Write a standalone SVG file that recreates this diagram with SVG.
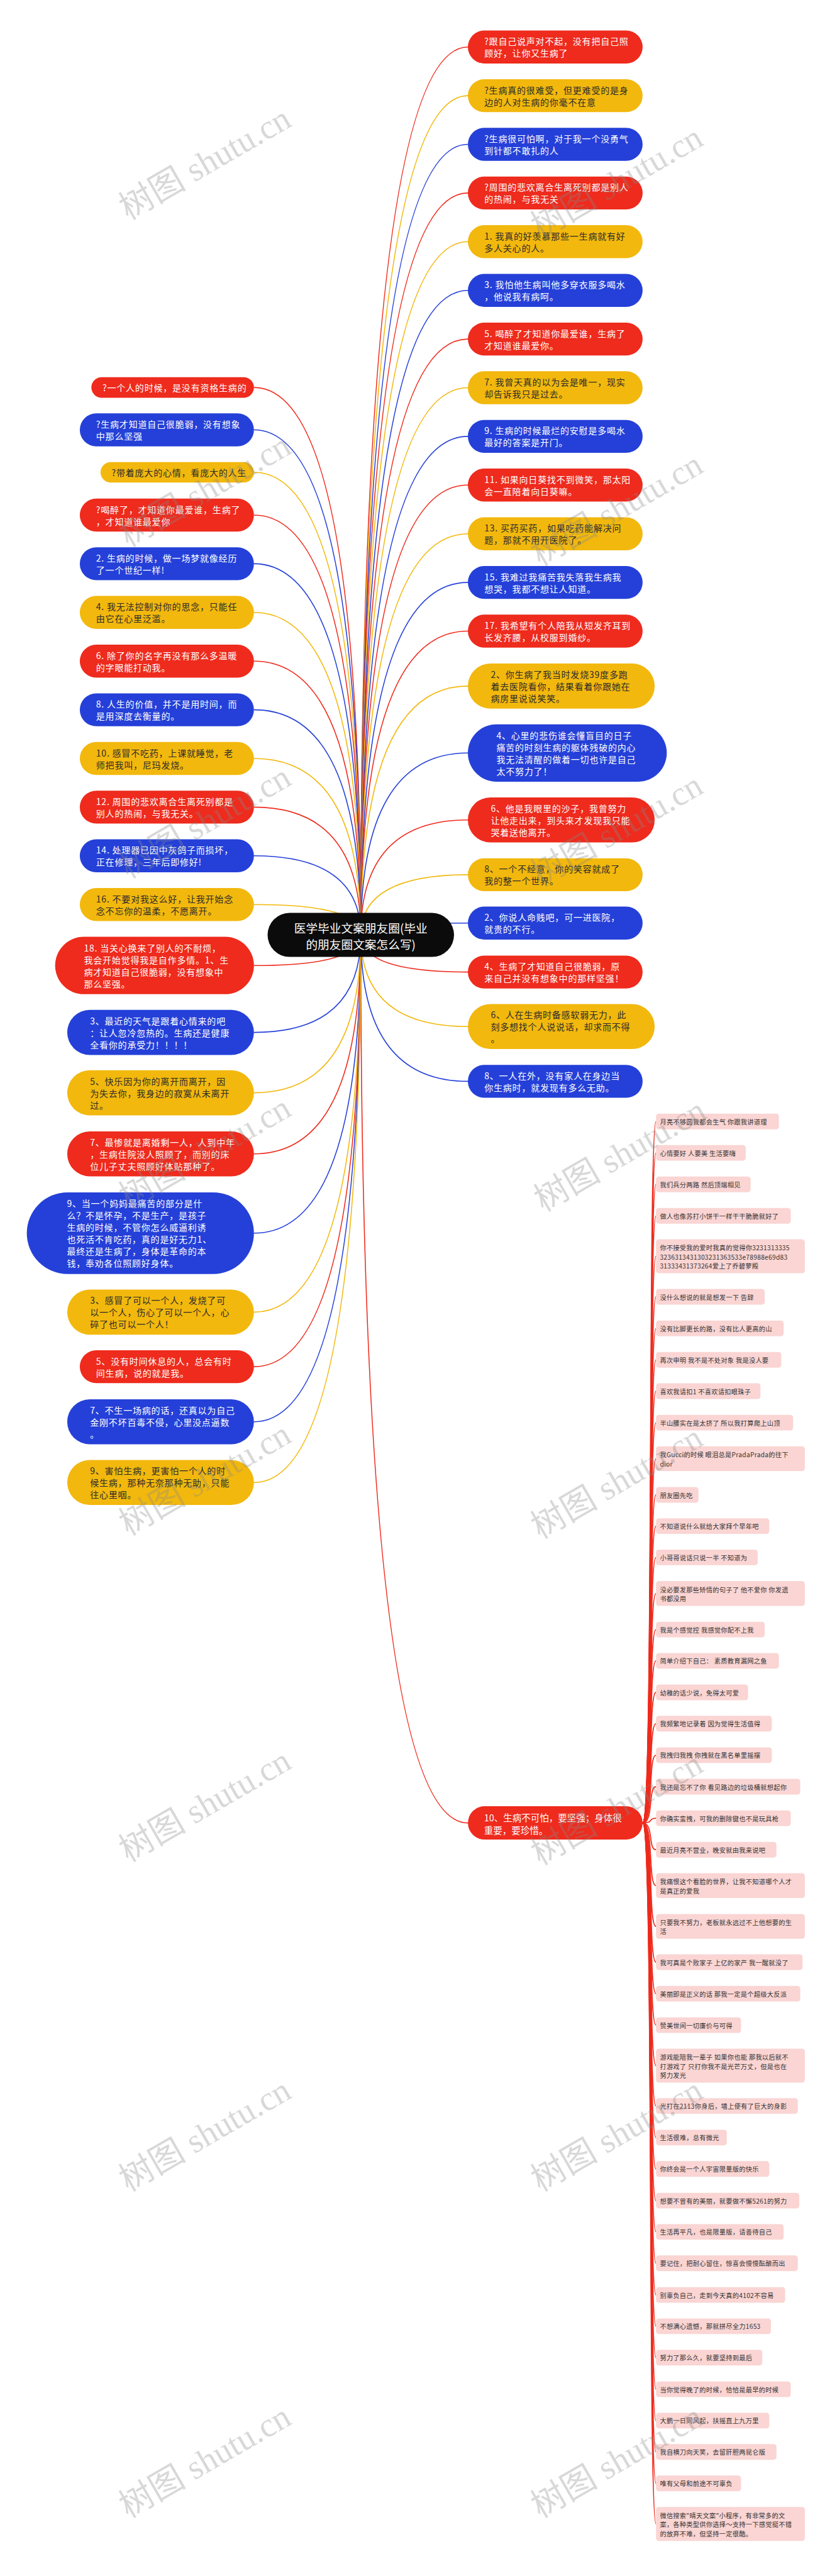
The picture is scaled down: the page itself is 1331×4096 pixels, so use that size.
<svg xmlns="http://www.w3.org/2000/svg" width="1331" height="4096" viewBox="0 0 1331 4096">
<style>
.r{fill:#EE2B1D}.y{fill:#F2B80D}.b{fill:#2540D8}
.cr{stroke:#EE2B1D}.cy{stroke:#F2B80D}.cb{stroke:#2540D8}
#connectors path{fill:none;stroke-width:1.6}
#pink-links path{fill:none;stroke:#EE2B1D;stroke-width:1.8}
text{font-family:"Noto Sans CJK SC","Noto Sans",sans-serif;dominant-baseline:central}
.t{font-size:14px;letter-spacing:0.8px}
.w{fill:#fff}.k{fill:#2b2b2b}
.pk{fill:#FAD5D3}
.p{font-size:10.2px;letter-spacing:0.3px;fill:#333}
.wm{font-family:"Liberation Serif","Noto Sans CJK SC",serif;font-size:54px;fill:#8a8a8a;fill-opacity:0.33;dominant-baseline:auto}
</style>
<rect width="1331" height="4096" fill="#fff"/>
<g id="connectors">
<path class="cr" d="M573.7 1486.6Q573.7 74.7 744 74.7"/>
<path class="cy" d="M573.7 1486.6Q573.7 152.1 744 152.1"/>
<path class="cb" d="M573.7 1486.6Q573.7 229.5 744 229.5"/>
<path class="cr" d="M573.7 1486.6Q573.7 306.9 744 306.9"/>
<path class="cy" d="M573.7 1486.6Q573.7 384.3 744 384.3"/>
<path class="cb" d="M573.7 1486.6Q573.7 461.7 744 461.7"/>
<path class="cr" d="M573.7 1486.6Q573.7 539.1 744 539.1"/>
<path class="cy" d="M573.7 1486.6Q573.7 616.5 744 616.5"/>
<path class="cb" d="M573.7 1486.6Q573.7 693.9 744 693.9"/>
<path class="cr" d="M573.7 1486.6Q573.7 771.3 744 771.3"/>
<path class="cy" d="M573.7 1486.6Q573.7 848.7 744 848.7"/>
<path class="cb" d="M573.7 1486.6Q573.7 926.1 744 926.1"/>
<path class="cr" d="M573.7 1486.6Q573.7 1003.5 744 1003.5"/>
<path class="cy" d="M573.7 1486.6Q573.7 1090.9 744 1090.9"/>
<path class="cb" d="M573.7 1486.6Q573.7 1197.3 744 1197.3"/>
<path class="cr" d="M573.7 1486.6Q573.7 1303.7 744 1303.7"/>
<path class="cy" d="M573.7 1486.6Q573.7 1390.9 744 1390.9"/>
<path class="cb" d="M573.7 1486.6Q573.7 1467.7 744 1467.7"/>
<path class="cr" d="M573.7 1486.6Q573.7 1545.6 744 1545.6"/>
<path class="cy" d="M573.7 1486.6Q573.7 1632.3 744 1632.3"/>
<path class="cb" d="M573.7 1486.6Q573.7 1719.4 744 1719.4"/>
<path class="cr" d="M573.7 1486.6Q573.7 2898.6 744 2898.6"/>
<path class="cr" d="M573.7 1486.6Q573.7 616.1 403.8 616.1"/>
<path class="cb" d="M573.7 1486.6Q573.7 683.5 403.8 683.5"/>
<path class="cy" d="M573.7 1486.6Q573.7 751 403.8 751"/>
<path class="cr" d="M573.7 1486.6Q573.7 819 403.8 819"/>
<path class="cb" d="M573.7 1486.6Q573.7 896.4 403.8 896.4"/>
<path class="cy" d="M573.7 1486.6Q573.7 973.8 403.8 973.8"/>
<path class="cr" d="M573.7 1486.6Q573.7 1051.2 403.8 1051.2"/>
<path class="cb" d="M573.7 1486.6Q573.7 1128.6 403.8 1128.6"/>
<path class="cy" d="M573.7 1486.6Q573.7 1206 403.8 1206"/>
<path class="cr" d="M573.7 1486.6Q573.7 1283.4 403.8 1283.4"/>
<path class="cb" d="M573.7 1486.6Q573.7 1360.8 403.8 1360.8"/>
<path class="cy" d="M573.7 1486.6Q573.7 1438.2 403.8 1438.2"/>
<path class="cr" d="M573.7 1486.6Q573.7 1535.2 403.8 1535.2"/>
<path class="cb" d="M573.7 1486.6Q573.7 1641.6 403.8 1641.6"/>
<path class="cy" d="M573.7 1486.6Q573.7 1737.6 403.8 1737.6"/>
<path class="cr" d="M573.7 1486.6Q573.7 1834.7 403.8 1834.7"/>
<path class="cb" d="M573.7 1486.6Q573.7 1960.8 403.8 1960.8"/>
<path class="cy" d="M573.7 1486.6Q573.7 2086.4 403.8 2086.4"/>
<path class="cr" d="M573.7 1486.6Q573.7 2173.1 403.8 2173.1"/>
<path class="cb" d="M573.7 1486.6Q573.7 2260.8 403.8 2260.8"/>
<path class="cy" d="M573.7 1486.6Q573.7 2357.3 403.8 2357.3"/>
</g>
<g id="pink-links">
<path d="M1021.9 2898.6C1040 2898.6 1030 1783.3 1043.2 1783.3"/>
<path d="M1021.9 2898.6C1040 2898.6 1030 1833.1 1043.2 1833.1"/>
<path d="M1021.9 2898.6C1040 2898.6 1030 1883.2 1043.2 1883.2"/>
<path d="M1021.9 2898.6C1040 2898.6 1030 1933.3 1043.2 1933.3"/>
<path d="M1021.9 2898.6C1040 2898.6 1030 1997.6 1043.2 1997.6"/>
<path d="M1021.9 2898.6C1040 2898.6 1030 2062 1043.2 2062"/>
<path d="M1021.9 2898.6C1040 2898.6 1030 2112.3 1043.2 2112.3"/>
<path d="M1021.9 2898.6C1040 2898.6 1030 2162.2 1043.2 2162.2"/>
<path d="M1021.9 2898.6C1040 2898.6 1030 2212 1043.2 2212"/>
<path d="M1021.9 2898.6C1040 2898.6 1030 2262.1 1043.2 2262.1"/>
<path d="M1021.9 2898.6C1040 2898.6 1030 2319.4 1043.2 2319.4"/>
<path d="M1021.9 2898.6C1040 2898.6 1030 2377 1043.2 2377"/>
<path d="M1021.9 2898.6C1040 2898.6 1030 2426.6 1043.2 2426.6"/>
<path d="M1021.9 2898.6C1040 2898.6 1030 2476.4 1043.2 2476.4"/>
<path d="M1021.9 2898.6C1040 2898.6 1030 2533.8 1043.2 2533.8"/>
<path d="M1021.9 2898.6C1040 2898.6 1030 2591.1 1043.2 2591.1"/>
<path d="M1021.9 2898.6C1040 2898.6 1030 2640.9 1043.2 2640.9"/>
<path d="M1021.9 2898.6C1040 2898.6 1030 2691 1043.2 2691"/>
<path d="M1021.9 2898.6C1040 2898.6 1030 2740.8 1043.2 2740.8"/>
<path d="M1021.9 2898.6C1040 2898.6 1030 2790.9 1043.2 2790.9"/>
<path d="M1021.9 2898.6C1040 2898.6 1030 2841 1043.2 2841"/>
<path d="M1021.9 2898.6C1040 2898.6 1030 2891.1 1043.2 2891.1"/>
<path d="M1021.9 2898.6C1040 2898.6 1030 2941.2 1043.2 2941.2"/>
<path d="M1021.9 2898.6C1040 2898.6 1030 2998.3 1043.2 2998.3"/>
<path d="M1021.9 2898.6C1040 2898.6 1030 3063.1 1043.2 3063.1"/>
<path d="M1021.9 2898.6C1040 2898.6 1030 3120 1043.2 3120"/>
<path d="M1021.9 2898.6C1040 2898.6 1030 3170.1 1043.2 3170.1"/>
<path d="M1021.9 2898.6C1040 2898.6 1030 3220.1 1043.2 3220.1"/>
<path d="M1021.9 2898.6C1040 2898.6 1030 3284.5 1043.2 3284.5"/>
<path d="M1021.9 2898.6C1040 2898.6 1030 3348.6 1043.2 3348.6"/>
<path d="M1021.9 2898.6C1040 2898.6 1030 3398.9 1043.2 3398.9"/>
<path d="M1021.9 2898.6C1040 2898.6 1030 3448.8 1043.2 3448.8"/>
<path d="M1021.9 2898.6C1040 2898.6 1030 3499.1 1043.2 3499.1"/>
<path d="M1021.9 2898.6C1040 2898.6 1030 3548.9 1043.2 3548.9"/>
<path d="M1021.9 2898.6C1040 2898.6 1030 3598.7 1043.2 3598.7"/>
<path d="M1021.9 2898.6C1040 2898.6 1030 3649.1 1043.2 3649.1"/>
<path d="M1021.9 2898.6C1040 2898.6 1030 3698.9 1043.2 3698.9"/>
<path d="M1021.9 2898.6C1040 2898.6 1030 3748.7 1043.2 3748.7"/>
<path d="M1021.9 2898.6C1040 2898.6 1030 3799.1 1043.2 3799.1"/>
<path d="M1021.9 2898.6C1040 2898.6 1030 3848.9 1043.2 3848.9"/>
<path d="M1021.9 2898.6C1040 2898.6 1030 3898.7 1043.2 3898.7"/>
<path d="M1021.9 2898.6C1040 2898.6 1030 3948.8 1043.2 3948.8"/>
<path d="M1021.9 2898.6C1040 2898.6 1030 4013.2 1043.2 4013.2"/>
</g>
<g id="center">
<rect x="425.5" y="1451.6" width="296.5" height="70" rx="35" fill="#0B0B0B"/>
<text x="573.7" y="1473.5" text-anchor="middle" class="w" style="font-size:18.7px"><tspan x="573.7" y="1473.5">医学毕业文案朋友圈(毕业</tspan><tspan x="573.7" y="1499.7">的朋友圈文案怎么写)</tspan></text>
</g>
<g id="r1"><rect class="r" x="744" y="48.5" width="277.9" height="52.4" rx="26.2"/><text class="t w"><tspan x="770.2" y="65.2">?跟自己说声对不起，没有把自己照</tspan><tspan x="770.2" y="84.2">顾好，让你又生病了</tspan></text></g>
<g id="r2"><rect class="y" x="744" y="125.9" width="277.9" height="52.4" rx="26.2"/><text class="t k"><tspan x="770.2" y="142.6">?生病真的很难受，但更难受的是身</tspan><tspan x="770.2" y="161.6">边的人对生病的你毫不在意</tspan></text></g>
<g id="r3"><rect class="b" x="744" y="203.3" width="277.9" height="52.4" rx="26.2"/><text class="t w"><tspan x="770.2" y="220">?生病很可怕啊，对于我一个没勇气</tspan><tspan x="770.2" y="239">到针都不敢扎的人</tspan></text></g>
<g id="r4"><rect class="r" x="744" y="280.7" width="277.9" height="52.4" rx="26.2"/><text class="t w"><tspan x="770.2" y="297.4">?周围的悲欢离合生离死别都是别人</tspan><tspan x="770.2" y="316.4">的热闹，与我无关</tspan></text></g>
<g id="r5"><rect class="y" x="744" y="358.1" width="277.9" height="52.4" rx="26.2"/><text class="t k"><tspan x="770.2" y="374.8">1. 我真的好羡慕那些一生病就有好</tspan><tspan x="770.2" y="393.8">多人关心的人。</tspan></text></g>
<g id="r6"><rect class="b" x="744" y="435.5" width="277.9" height="52.4" rx="26.2"/><text class="t w"><tspan x="770.2" y="452.2">3. 我怕他生病叫他多穿衣服多喝水</tspan><tspan x="770.2" y="471.2">，他说我有病呵。</tspan></text></g>
<g id="r7"><rect class="r" x="744" y="512.9" width="277.9" height="52.4" rx="26.2"/><text class="t w"><tspan x="770.2" y="529.6">5. 喝醉了才知道你最爱谁，生病了</tspan><tspan x="770.2" y="548.6">才知道谁最爱你。</tspan></text></g>
<g id="r8"><rect class="y" x="744" y="590.3" width="277.9" height="52.4" rx="26.2"/><text class="t k"><tspan x="770.2" y="607">7. 我曾天真的以为会是唯一，现实</tspan><tspan x="770.2" y="626">却告诉我只是过去。</tspan></text></g>
<g id="r9"><rect class="b" x="744" y="667.7" width="277.9" height="52.4" rx="26.2"/><text class="t w"><tspan x="770.2" y="684.4">9. 生病的时候最烂的安慰是多喝水</tspan><tspan x="770.2" y="703.4">最好的答案是开门。</tspan></text></g>
<g id="r10"><rect class="r" x="744" y="745.1" width="277.9" height="52.4" rx="26.2"/><text class="t w"><tspan x="770.2" y="761.8">11. 如果向日葵找不到微笑，那太阳</tspan><tspan x="770.2" y="780.8">会一直陪着向日葵嘛。</tspan></text></g>
<g id="r11"><rect class="y" x="744" y="822.5" width="277.9" height="52.4" rx="26.2"/><text class="t k"><tspan x="770.2" y="839.2">13. 买药买药，如果吃药能解决问</tspan><tspan x="770.2" y="858.2">题，那就不用开医院了。</tspan></text></g>
<g id="r12"><rect class="b" x="744" y="899.9" width="277.9" height="52.4" rx="26.2"/><text class="t w"><tspan x="770.2" y="916.6">15. 我难过我痛苦我失落我生病我</tspan><tspan x="770.2" y="935.6">想哭，我都不想让人知道。</tspan></text></g>
<g id="r13"><rect class="r" x="744" y="977.3" width="277.9" height="52.4" rx="26.2"/><text class="t w"><tspan x="770.2" y="994">17. 我希望有个人陪我从短发齐耳到</tspan><tspan x="770.2" y="1013">长发齐腰，从校服到婚纱。</tspan></text></g>
<g id="r14"><rect class="y" x="744" y="1055.1" width="297.1" height="71.6" rx="35.8"/><text class="t k"><tspan x="780.4" y="1071.9">2、你生病了我当时发烧39度多跑</tspan><tspan x="780.4" y="1090.9">着去医院看你，结果看着你跟她在</tspan><tspan x="780.4" y="1109.9">病房里说说笑笑。</tspan></text></g>
<g id="r15"><rect class="b" x="744" y="1151.65" width="316.3" height="91.3" rx="45.65"/><text class="t w"><tspan x="789.4" y="1168.8">4、心里的悲伤谁会懂盲目的日子</tspan><tspan x="789.4" y="1187.8">痛苦的时刻生病的躯体残破的内心</tspan><tspan x="789.4" y="1206.8">我无法清醒的做着一切也许是自己</tspan><tspan x="789.4" y="1225.8">太不努力了！</tspan></text></g>
<g id="r16"><rect class="r" x="744" y="1267.9" width="297.1" height="71.6" rx="35.8"/><text class="t w"><tspan x="780.4" y="1284.7">6、他是我眼里的沙子，我曾努力</tspan><tspan x="780.4" y="1303.7">让他走出来，到头来才发现我只能</tspan><tspan x="780.4" y="1322.7">哭着送他离开。</tspan></text></g>
<g id="r17"><rect class="y" x="744" y="1364.7" width="277.9" height="52.4" rx="26.2"/><text class="t k"><tspan x="770.2" y="1381.4">8、一个不经意，你的笑容就成了</tspan><tspan x="770.2" y="1400.4">我的整一个世界。</tspan></text></g>
<g id="r18"><rect class="b" x="744" y="1441.5" width="277.9" height="52.4" rx="26.2"/><text class="t w"><tspan x="770.2" y="1458.2">2、你说人命贱吧，可一进医院，</tspan><tspan x="770.2" y="1477.2">就贵的不行。</tspan></text></g>
<g id="r19"><rect class="r" x="744" y="1519.4" width="277.9" height="52.4" rx="26.2"/><text class="t w"><tspan x="770.2" y="1536.1">4、生病了才知道自己很脆弱，原</tspan><tspan x="770.2" y="1555.1">来自己并没有想象中的那样坚强！</tspan></text></g>
<g id="r20"><rect class="y" x="744" y="1596.5" width="297.1" height="71.6" rx="35.8"/><text class="t k"><tspan x="780.4" y="1613.3">6、人在生病时备感软弱无力，此</tspan><tspan x="780.4" y="1632.3">刻多想找个人说说话，却求而不得</tspan><tspan x="780.4" y="1651.3">。</tspan></text></g>
<g id="r21"><rect class="b" x="744" y="1693.2" width="277.9" height="52.4" rx="26.2"/><text class="t w"><tspan x="770.2" y="1709.9">8、一人在外，没有家人在身边当</tspan><tspan x="770.2" y="1728.9">你生病时，就发现有多么无助。</tspan></text></g>
<g id="r22"><rect class="r" x="744.1" y="2872.1" width="277.8" height="53" rx="26.5"/><text class="w" style="font-size:14.5px"><tspan x="769.7" y="2889.3">10、生病不可怕，要坚强；身体很</tspan><tspan x="769.7" y="2909">重要，要珍惜。</tspan></text></g>
<g id="l1"><rect class="r" x="145.3" y="599.75" width="258.5" height="32.7" rx="16.35"/><text class="t w" x="163" y="616.1">?一个人的时候，是没有资格生病的</text></g>
<g id="l2"><rect class="b" x="126.9" y="657.3" width="276.9" height="52.4" rx="26.2"/><text class="t w"><tspan x="152.8" y="674">?生病才知道自己很脆弱，没有想象</tspan><tspan x="152.8" y="693">中那么坚强</tspan></text></g>
<g id="l3"><rect class="y" x="159.9" y="734.65" width="243.9" height="32.7" rx="16.35"/><text class="t k" x="177.5" y="751">?带着庞大的心情，看庞大的人生</text></g>
<g id="l4"><rect class="r" x="126.9" y="792.8" width="276.9" height="52.4" rx="26.2"/><text class="t w"><tspan x="152.8" y="809.5">?喝醉了，才知道你最爱谁，生病了</tspan><tspan x="152.8" y="828.5">，才知道谁最爱你</tspan></text></g>
<g id="l5"><rect class="b" x="126.9" y="870.2" width="276.9" height="52.4" rx="26.2"/><text class="t w"><tspan x="152.8" y="886.9">2. 生病的时候，做一场梦就像经历</tspan><tspan x="152.8" y="905.9">了一个世纪一样!</tspan></text></g>
<g id="l6"><rect class="y" x="126.9" y="947.6" width="276.9" height="52.4" rx="26.2"/><text class="t k"><tspan x="152.8" y="964.3">4. 我无法控制对你的思念，只能任</tspan><tspan x="152.8" y="983.3">由它在心里泛滥。</tspan></text></g>
<g id="l7"><rect class="r" x="126.9" y="1025" width="276.9" height="52.4" rx="26.2"/><text class="t w"><tspan x="152.8" y="1041.7">6. 除了你的名字再没有那么多温暖</tspan><tspan x="152.8" y="1060.7">的字眼能打动我。</tspan></text></g>
<g id="l8"><rect class="b" x="126.9" y="1102.4" width="276.9" height="52.4" rx="26.2"/><text class="t w"><tspan x="152.8" y="1119.1">8. 人生的价值，并不是用时间，而</tspan><tspan x="152.8" y="1138.1">是用深度去衡量的。</tspan></text></g>
<g id="l9"><rect class="y" x="126.9" y="1179.8" width="276.9" height="52.4" rx="26.2"/><text class="t k"><tspan x="152.8" y="1196.5">10. 感冒不吃药，上课就睡觉，老</tspan><tspan x="152.8" y="1215.5">师把我叫，尼玛发烧。</tspan></text></g>
<g id="l10"><rect class="r" x="126.9" y="1257.2" width="276.9" height="52.4" rx="26.2"/><text class="t w"><tspan x="152.8" y="1273.9">12. 周围的悲欢离合生离死别都是</tspan><tspan x="152.8" y="1292.9">别人的热闹，与我无关。</tspan></text></g>
<g id="l11"><rect class="b" x="126.9" y="1334.6" width="276.9" height="52.4" rx="26.2"/><text class="t w"><tspan x="152.8" y="1351.3">14. 处理器已因中灰鸽子而损坏，</tspan><tspan x="152.8" y="1370.3">正在修理，三年后即修好!</tspan></text></g>
<g id="l12"><rect class="y" x="126.9" y="1412" width="276.9" height="52.4" rx="26.2"/><text class="t k"><tspan x="152.8" y="1428.7">16. 不要对我这么好，让我开始念</tspan><tspan x="152.8" y="1447.7">念不忘你的温柔，不愿离开。</tspan></text></g>
<g id="l13"><rect class="r" x="87.7" y="1489.55" width="316.1" height="91.3" rx="45.65"/><text class="t w"><tspan x="133.4" y="1506.7">18. 当关心换来了别人的不耐烦，</tspan><tspan x="133.4" y="1525.7">我会开始觉得我是自作多情。1、生</tspan><tspan x="133.4" y="1544.7">病才知道自己很脆弱，没有想象中</tspan><tspan x="133.4" y="1563.7">那么坚强。</tspan></text></g>
<g id="l14"><rect class="b" x="106.9" y="1605.8" width="296.9" height="71.6" rx="35.8"/><text class="t w"><tspan x="143.2" y="1622.6">3、最近的天气是跟着心情来的吧</tspan><tspan x="143.2" y="1641.6">：让人忽冷忽热的。生病还是健康</tspan><tspan x="143.2" y="1660.6">全看你的承受力！！！！</tspan></text></g>
<g id="l15"><rect class="y" x="106.9" y="1701.8" width="296.9" height="71.6" rx="35.8"/><text class="t k"><tspan x="143.2" y="1718.6">5、快乐因为你的离开而离开，因</tspan><tspan x="143.2" y="1737.6">为失去你，我身边的寂寞从未离开</tspan><tspan x="143.2" y="1756.6">过。</tspan></text></g>
<g id="l16"><rect class="r" x="106.9" y="1798.9" width="296.9" height="71.6" rx="35.8"/><text class="t w"><tspan x="143.2" y="1815.7">7、最惨就是离婚剩一人，人到中年</tspan><tspan x="143.2" y="1834.7">，生病住院没人照顾了，而别的床</tspan><tspan x="143.2" y="1853.7">位儿子丈夫照顾好体贴那种了。</tspan></text></g>
<g id="l17"><rect class="b" x="42.6" y="1895.9" width="361.2" height="129.8" rx="64.9"/><text class="t w"><tspan x="106.4" y="1913.3">9、当一个妈妈最痛苦的部分是什</tspan><tspan x="106.4" y="1932.3">么？不是怀孕，不是生产，是孩子</tspan><tspan x="106.4" y="1951.3">生病的时候，不管你怎么威逼利诱</tspan><tspan x="106.4" y="1970.3">也死活不肯吃药，真的是好无力1、</tspan><tspan x="106.4" y="1989.3">最终还是生病了，身体是革命的本</tspan><tspan x="106.4" y="2008.3">钱，奉劝各位照顾好身体。</tspan></text></g>
<g id="l18"><rect class="y" x="106.9" y="2050.6" width="296.9" height="71.6" rx="35.8"/><text class="t k"><tspan x="143.2" y="2067.4">3、感冒了可以一个人，发烧了可</tspan><tspan x="143.2" y="2086.4">以一个人，伤心了可以一个人，心</tspan><tspan x="143.2" y="2105.4">碎了也可以一个人！</tspan></text></g>
<g id="l19"><rect class="r" x="126.9" y="2146.9" width="276.9" height="52.4" rx="26.2"/><text class="t w"><tspan x="152.8" y="2163.6">5、没有时间休息的人，总会有时</tspan><tspan x="152.8" y="2182.6">间生病，说的就是我。</tspan></text></g>
<g id="l20"><rect class="b" x="106.9" y="2225" width="296.9" height="71.6" rx="35.8"/><text class="t w"><tspan x="143.2" y="2241.8">7、不生一场病的话，还真以为自己</tspan><tspan x="143.2" y="2260.8">金刚不坏百毒不侵，心里没点逼数</tspan><tspan x="143.2" y="2279.8">。</tspan></text></g>
<g id="l21"><rect class="y" x="106.9" y="2321.5" width="296.9" height="71.6" rx="35.8"/><text class="t k"><tspan x="143.2" y="2338.3">9、害怕生病，更害怕一个人的时</tspan><tspan x="143.2" y="2357.3">候生病，那种无奈那种无助，只能</tspan><tspan x="143.2" y="2376.3">往心里咽。</tspan></text></g>
<g id="p1"><rect class="pk" x="1043.2" y="1770.85" width="195.4" height="24.9" rx="4.5"/><text class="p" x="1049.4" y="1783.3">月亮不够圆我都会生气 你跟我讲道理</text></g>
<g id="p2"><rect class="pk" x="1043.2" y="1820.65" width="142.7" height="24.9" rx="4.5"/><text class="p" x="1049.4" y="1833.1">心情要好 人要美 生活要嗨</text></g>
<g id="p3"><rect class="pk" x="1043.2" y="1870.75" width="150.5" height="24.9" rx="4.5"/><text class="p" x="1049.4" y="1883.2">我们兵分两路 然后顶端相见</text></g>
<g id="p4"><rect class="pk" x="1043.2" y="1920.85" width="214.3" height="24.9" rx="4.5"/><text class="p" x="1049.4" y="1933.3">做人也像苏打小饼干一样干干脆脆就好了</text></g>
<g id="p5"><rect class="pk" x="1043.2" y="1970.6" width="236.7" height="54" rx="4.5"/><text class="p"><tspan x="1049.4" y="1983.1">你不接受我的爱时我真的觉得你3231313335</tspan><tspan x="1049.4" y="1997.6">3236313431303231363533e78988e69d83</tspan><tspan x="1049.4" y="2012.1">31333431373264爱上了乔碧萝殿</tspan></text></g>
<g id="p6"><rect class="pk" x="1043.2" y="2049.55" width="172.8" height="24.9" rx="4.5"/><text class="p" x="1049.4" y="2062">没什么想说的就是想发一下 告辞</text></g>
<g id="p7"><rect class="pk" x="1043.2" y="2099.85" width="202.9" height="24.9" rx="4.5"/><text class="p" x="1049.4" y="2112.3">没有比脚更长的路，没有比人更高的山</text></g>
<g id="p8"><rect class="pk" x="1043.2" y="2149.75" width="199.1" height="24.9" rx="4.5"/><text class="p" x="1049.4" y="2162.2">再次申明 我不是不处对象 我是没人要</text></g>
<g id="p9"><rect class="pk" x="1043.2" y="2199.55" width="166.1" height="24.9" rx="4.5"/><text class="p" x="1049.4" y="2212">喜欢我请扣1 不喜欢请扣眼珠子</text></g>
<g id="p10"><rect class="pk" x="1043.2" y="2249.65" width="218" height="24.9" rx="4.5"/><text class="p" x="1049.4" y="2262.1">半山腰实在是太挤了 所以我打算爬上山顶</text></g>
<g id="p11"><rect class="pk" x="1043.2" y="2299.7" width="236.7" height="39.4" rx="4.5"/><text class="p"><tspan x="1049.4" y="2312.15">我Gucci的时候 眼泪总是PradaPrada的往下</tspan><tspan x="1049.4" y="2326.65">dior</tspan></text></g>
<g id="p12"><rect class="pk" x="1043.2" y="2364.55" width="67.5" height="24.9" rx="4.5"/><text class="p" x="1049.4" y="2377">朋友圈先吃</text></g>
<g id="p13"><rect class="pk" x="1043.2" y="2414.15" width="180.1" height="24.9" rx="4.5"/><text class="p" x="1049.4" y="2426.6">不知道说什么就给大家拜个早年吧</text></g>
<g id="p14"><rect class="pk" x="1043.2" y="2463.95" width="161.7" height="24.9" rx="4.5"/><text class="p" x="1049.4" y="2476.4">小哥哥说话只说一半 不知道为</text></g>
<g id="p15"><rect class="pk" x="1043.2" y="2514.1" width="236.7" height="39.4" rx="4.5"/><text class="p"><tspan x="1049.4" y="2526.55">没必要发那些矫情的句子了 他不爱你 你发遗</tspan><tspan x="1049.4" y="2541.05">书都没用</tspan></text></g>
<g id="p16"><rect class="pk" x="1043.2" y="2578.65" width="172.8" height="24.9" rx="4.5"/><text class="p" x="1049.4" y="2591.1">我是个感觉控 我感觉你配不上我</text></g>
<g id="p17"><rect class="pk" x="1043.2" y="2628.45" width="195.4" height="24.9" rx="4.5"/><text class="p" x="1049.4" y="2640.9">简单介绍下自己： 素质教育漏网之鱼</text></g>
<g id="p18"><rect class="pk" x="1043.2" y="2678.55" width="146.3" height="24.9" rx="4.5"/><text class="p" x="1049.4" y="2691">幼稚的话少说，免得太可爱</text></g>
<g id="p19"><rect class="pk" x="1043.2" y="2728.35" width="184.2" height="24.9" rx="4.5"/><text class="p" x="1049.4" y="2740.8">我频繁地记录着 因为觉得生活值得</text></g>
<g id="p20"><rect class="pk" x="1043.2" y="2778.45" width="184.2" height="24.9" rx="4.5"/><text class="p" x="1049.4" y="2790.9">我拽归我拽 你拽就在黑名单里摇摆</text></g>
<g id="p21"><rect class="pk" x="1043.2" y="2828.55" width="229.4" height="24.9" rx="4.5"/><text class="p" x="1049.4" y="2841">我还是忘不了你 看见路边的垃圾桶就想起你</text></g>
<g id="p22"><rect class="pk" x="1043.2" y="2878.65" width="214.3" height="24.9" rx="4.5"/><text class="p" x="1049.4" y="2891.1">你确实蛮拽，可我的删除键也不是玩具枪</text></g>
<g id="p23"><rect class="pk" x="1043.2" y="2928.75" width="191.5" height="24.9" rx="4.5"/><text class="p" x="1049.4" y="2941.2">最近月亮不营业，晚安就由我来说吧</text></g>
<g id="p24"><rect class="pk" x="1043.2" y="2978.6" width="236.7" height="39.4" rx="4.5"/><text class="p"><tspan x="1049.4" y="2991.05">我痛恨这个看脸的世界，让我不知道哪个人才</tspan><tspan x="1049.4" y="3005.55">是真正的爱我</tspan></text></g>
<g id="p25"><rect class="pk" x="1043.2" y="3043.4" width="236.7" height="39.4" rx="4.5"/><text class="p"><tspan x="1049.4" y="3055.85">只要我不努力，老板就永远过不上他想要的生</tspan><tspan x="1049.4" y="3070.35">活</tspan></text></g>
<g id="p26"><rect class="pk" x="1043.2" y="3107.55" width="233" height="24.9" rx="4.5"/><text class="p" x="1049.4" y="3120">我可真是个败家子 上亿的家产 我一醒就没了</text></g>
<g id="p27"><rect class="pk" x="1043.2" y="3157.65" width="229.4" height="24.9" rx="4.5"/><text class="p" x="1049.4" y="3170.1">美丽即是正义的话 那我一定是个超级大反派</text></g>
<g id="p28"><rect class="pk" x="1043.2" y="3207.65" width="135.2" height="24.9" rx="4.5"/><text class="p" x="1049.4" y="3220.1">赞美世间一切廉价与可得</text></g>
<g id="p29"><rect class="pk" x="1043.2" y="3257.5" width="236.7" height="54" rx="4.5"/><text class="p"><tspan x="1049.4" y="3270">游戏能陪我一辈子 如果你也能 那我以后就不</tspan><tspan x="1049.4" y="3284.5">打游戏了 只打你我不是光芒万丈，但是也在</tspan><tspan x="1049.4" y="3299">努力发光</tspan></text></g>
<g id="p30"><rect class="pk" x="1043.2" y="3336.15" width="225.5" height="24.9" rx="4.5"/><text class="p" x="1049.4" y="3348.6">光打在2113你身后，墙上便有了巨大的身影</text></g>
<g id="p31"><rect class="pk" x="1043.2" y="3386.45" width="112.6" height="24.9" rx="4.5"/><text class="p" x="1049.4" y="3398.9">生活很难，总有微光</text></g>
<g id="p32"><rect class="pk" x="1043.2" y="3436.35" width="180.1" height="24.9" rx="4.5"/><text class="p" x="1049.4" y="3448.8">你终会是一个人宇宙限量版的快乐</text></g>
<g id="p33"><rect class="pk" x="1043.2" y="3486.65" width="227.8" height="24.9" rx="4.5"/><text class="p" x="1049.4" y="3499.1">想要不曾有的美丽，就要做不懈5261的努力</text></g>
<g id="p34"><rect class="pk" x="1043.2" y="3536.45" width="202.9" height="24.9" rx="4.5"/><text class="p" x="1049.4" y="3548.9">生活再平凡，也是限量版，请善待自己</text></g>
<g id="p35"><rect class="pk" x="1043.2" y="3586.25" width="225.5" height="24.9" rx="4.5"/><text class="p" x="1049.4" y="3598.7">要记住，把耐心留住，惊喜会慢慢酝酿而出</text></g>
<g id="p36"><rect class="pk" x="1043.2" y="3636.65" width="205.3" height="24.9" rx="4.5"/><text class="p" x="1049.4" y="3649.1">别辜负自己，走到今天真的4102不容易</text></g>
<g id="p37"><rect class="pk" x="1043.2" y="3686.45" width="182.7" height="24.9" rx="4.5"/><text class="p" x="1049.4" y="3698.9">不想满心遗憾，那就拼尽全力1653</text></g>
<g id="p38"><rect class="pk" x="1043.2" y="3736.25" width="169" height="24.9" rx="4.5"/><text class="p" x="1049.4" y="3748.7">努力了那么久，就要坚持到最后</text></g>
<g id="p39"><rect class="pk" x="1043.2" y="3786.65" width="214.3" height="24.9" rx="4.5"/><text class="p" x="1049.4" y="3799.1">当你觉得晚了的时候，恰恰是最早的时候</text></g>
<g id="p40"><rect class="pk" x="1043.2" y="3836.45" width="180.1" height="24.9" rx="4.5"/><text class="p" x="1049.4" y="3848.9">大鹏一日同风起，扶摇直上九万里</text></g>
<g id="p41"><rect class="pk" x="1043.2" y="3886.25" width="191.5" height="24.9" rx="4.5"/><text class="p" x="1049.4" y="3898.7">我自横刀向天笑，去留肝胆两昆仑版</text></g>
<g id="p42"><rect class="pk" x="1043.2" y="3936.35" width="135.2" height="24.9" rx="4.5"/><text class="p" x="1049.4" y="3948.8">唯有父母和前途不可辜负</text></g>
<g id="p43"><rect class="pk" x="1043.2" y="3986.2" width="236.7" height="54" rx="4.5"/><text class="p"><tspan x="1049.4" y="3998.7">微信搜索"晴天文案"小程序，有非常多的文</tspan><tspan x="1049.4" y="4013.2">案，各种类型供你选择～支持一下感觉挺不错</tspan><tspan x="1049.4" y="4027.7">的放弃不难，但坚持一定很酷。</tspan></text></g>
<g id="watermarks">
<text class="wm" text-anchor="middle" transform="translate(335 275) rotate(-30)">树图 shutu.cn</text>
<text class="wm" text-anchor="middle" transform="translate(990 305) rotate(-30)">树图 shutu.cn</text>
<text class="wm" text-anchor="middle" transform="translate(335 795) rotate(-30)">树图 shutu.cn</text>
<text class="wm" text-anchor="middle" transform="translate(990 825) rotate(-30)">树图 shutu.cn</text>
<text class="wm" text-anchor="middle" transform="translate(335 1322) rotate(-30)">树图 shutu.cn</text>
<text class="wm" text-anchor="middle" transform="translate(990 1335) rotate(-30)">树图 shutu.cn</text>
<text class="wm" text-anchor="middle" transform="translate(335 1848) rotate(-30)">树图 shutu.cn</text>
<text class="wm" text-anchor="middle" transform="translate(995 1852) rotate(-30)">树图 shutu.cn</text>
<text class="wm" text-anchor="middle" transform="translate(335 2367) rotate(-30)">树图 shutu.cn</text>
<text class="wm" text-anchor="middle" transform="translate(990 2372) rotate(-30)">树图 shutu.cn</text>
<text class="wm" text-anchor="middle" transform="translate(335 2886) rotate(-30)">树图 shutu.cn</text>
<text class="wm" text-anchor="middle" transform="translate(990 2891) rotate(-30)">树图 shutu.cn</text>
<text class="wm" text-anchor="middle" transform="translate(335 3410) rotate(-30)">树图 shutu.cn</text>
<text class="wm" text-anchor="middle" transform="translate(990 3410) rotate(-30)">树图 shutu.cn</text>
<text class="wm" text-anchor="middle" transform="translate(335 3929) rotate(-30)">树图 shutu.cn</text>
<text class="wm" text-anchor="middle" transform="translate(990 3929) rotate(-30)">树图 shutu.cn</text>
</g>
</svg>
